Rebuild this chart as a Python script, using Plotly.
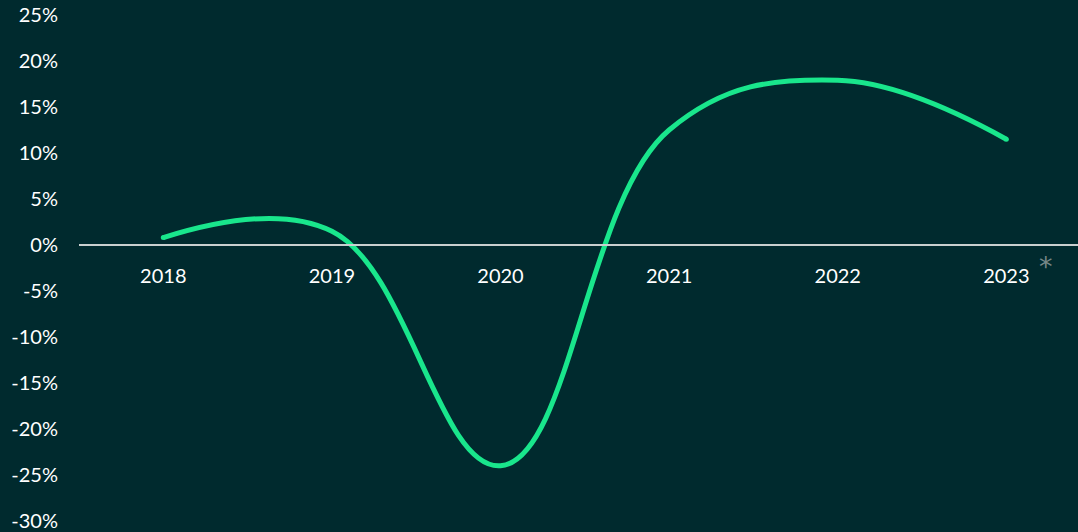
import plotly.graph_objects as go

years = ["2018", "2019", "2020", "2021", "2022", "2023"]
growth = [0.8, 1.5, -24.0, 12.5, 17.9, 11.5]
y_ticks = [25, 20, 15, 10, 5, 0, -5, -10, -15, -20, -25, -30]

BG = "#002a2e"
LINE = "#19e68c"
TEXT = "#ffffff"
FONT = "Lato"

W, H = 1078, 532
L_MARGIN = 79
y_min, y_max = -31.2, 26.63
x_idx = list(range(len(years)))

fig = go.Figure()
fig.add_trace(go.Scatter(
    x=x_idx, y=growth, mode="lines",
    line=dict(color=LINE, width=5, shape="spline", smoothing=1.15),
    hoverinfo="skip",
))
# rounded ends of the line
fig.add_trace(go.Scatter(
    x=[x_idx[0], x_idx[-1]], y=[growth[0], growth[-1]], mode="markers",
    marker=dict(color=LINE, size=5, line=dict(width=0)),
    hoverinfo="skip",
))

fig.update_layout(
    width=W, height=H,
    paper_bgcolor=BG, plot_bgcolor=BG,
    margin=dict(l=L_MARGIN, r=0, t=0, b=0),
    showlegend=False,
    font=dict(family=FONT, color=TEXT, size=20),
    xaxis=dict(
        range=[-0.5, 5.425],
        tickmode="array", tickvals=x_idx, ticktext=years,
        showgrid=False, zeroline=False,
        showline=True, linecolor="#c9cfcf", linewidth=1.5,
        anchor="free", position=(0 - y_min) / (y_max - y_min),
        ticks="", ticklabelstandoff=13,
        tickfont=dict(family=FONT, size=20, color=TEXT),
    ),
    yaxis=dict(
        range=[y_min, y_max],
        tickmode="array", tickvals=y_ticks,
        ticktext=[f"{v}%" for v in y_ticks],
        showgrid=False, zeroline=False, showline=False,
        ticks="", ticklabelstandoff=20,
        tickfont=dict(family=FONT, size=20, color=TEXT),
    ),
)

# footnote marker beside the last year
fig.add_annotation(
    x=(1046 - L_MARGIN) / (W - L_MARGIN), y=(H - 266) / H,
    xref="paper", yref="paper", text="*", showarrow=False,
    xanchor="center", yanchor="middle",
    font=dict(family="DejaVu Sans", size=27, color="#778787"),
)

fig.write_html("out.html")
